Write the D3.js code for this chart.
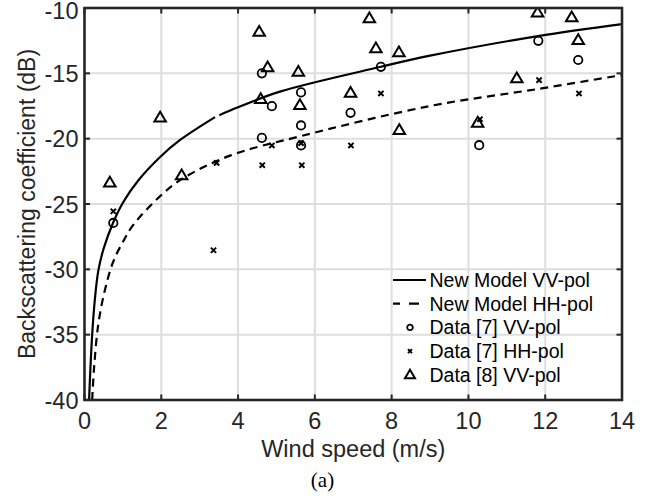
<!DOCTYPE html>
<html>
<head>
<meta charset="utf-8">
<script src="https://cdn.jsdelivr.net/npm/d3@7"></script>
<style>
    body { margin: 0; background: #fff; }
    svg { display: block; font-family: "Liberation Sans", Arial, sans-serif; }
</style>
</head>
<body>
<svg id="chart" width="658" height="502"></svg>
<script>
'use strict';

const X_TICKS = [0, 2, 4, 6, 8, 10, 12, 14];
const Y_TICKS = [-40, -35, -30, -25, -20, -15, -10];

// model curves (null = small break in the drawn line)
const vvModelX = [0.12, 0.14, 0.2, 0.27, 0.36, 0.5, 0.75, 1.0, 1.4, 1.97, 2.49, 3.40, 3.45, 3.51, 4.0, 5.09, 7.72, 9.0, 11.81, 14];
const vvModelY = [-40, -38.5, -35.0, -32.3, -30.1, -28.4, -26.4, -24.9, -23.2, -21.4, -20.1, -18.35, null, -18.2, -17.6, -16.4, -14.5, -13.65, -12.15, -11.23];
const hhModelX = [0.2, 0.25, 0.36, 0.53, 0.75, 1.0, 1.27, 1.97, 2.53, 3.79, 5.64, 9.0, 11.81, 14];
const hhModelY = [-40, -37.5, -34.2, -31.6, -29.4, -27.9, -26.6, -24.4, -23.1, -21.3, -19.8, -17.5, -16.2, -15.13];

// Data [7] VV-pol
const vv7X = [0.75, 4.62, 4.62, 4.88, 5.64, 5.64, 5.64, 6.93, 7.72, 10.28, 11.82, 12.86];
const vv7Y = [-26.45, -15.0, -19.94, -17.51, -16.46, -18.99, -20.52, -18.02, -14.5, -20.5, -12.51, -13.98];
// Data [7] HH-pol
const hh7X = [0.75, 3.36, 3.44, 4.63, 4.88, 5.64, 5.66, 6.94, 7.72, 10.3, 11.84, 12.88];
const hh7Y = [-25.56, -28.54, -21.85, -22.03, -20.52, -20.34, -22.03, -20.52, -16.54, -18.51, -15.52, -16.54];
// Data [8] VV-pol
const vv8X = [0.66, 1.97, 2.53, 4.55, 4.59, 4.77, 5.57, 5.61, 6.93, 7.42, 7.59, 8.19, 8.2, 10.24, 11.26, 11.8, 12.69, 12.86];
const vv8Y = [-23.36, -18.38, -22.8, -11.82, -16.97, -14.54, -14.88, -17.43, -16.49, -10.79, -13.09, -13.39, -19.35, -18.79, -15.39, -10.36, -10.71, -12.45];

const LEGEND_LABELS = ["New Model VV-pol", "New Model HH-pol", "Data [7] VV-pol", "Data [7] HH-pol", "Data [8] VV-pol"];

const LEFT = 84.5, RIGHT = 622, TOP = 8, BOTTOM = 400;
const AXIS_COLOR = "#262626";

const svg = d3.select("#chart");
const x = d3.scaleLinear().domain([0, 14]).range([LEFT, RIGHT]);
const y = d3.scaleLinear().domain([-40, -10]).range([BOTTOM, TOP]);

function zip(xs, ys) {
    return xs.map((v, i) => [v, ys[i]]);
}

/**
 * Marker drawers, centred on 0,0
 */
function drawCircle(g, r) {
    g.append("circle").attr("r", r).attr("fill", "none").attr("stroke", "#000").attr("stroke-width", 1.8);
}
function drawCross(g, h) {
    g.append("path").attr("d", `M${-h},${-h}L${h},${h}M${-h},${h}L${h},${-h}`)
        .attr("stroke", "#000").attr("stroke-width", 2).attr("fill", "none");
}
function drawTriangle(g, w) {
    let hgt = w * 0.85;
    g.append("path").attr("d", `M0,${-hgt * 0.6}L${w / 2},${hgt * 0.4}L${-w / 2},${hgt * 0.4}Z`)
        .attr("stroke", "#000").attr("stroke-width", 2).attr("fill", "none").attr("stroke-linejoin", "miter");
}

// grid
svg.append("g").selectAll("line.gx").data(X_TICKS.slice(1, -1)).enter().append("line")
    .attr("x1", d => x(d)).attr("x2", d => x(d)).attr("y1", TOP).attr("y2", BOTTOM)
    .attr("stroke", "#dedede").attr("stroke-width", 2);
svg.append("g").selectAll("line.gy").data(Y_TICKS.slice(1, -1)).enter().append("line")
    .attr("x1", LEFT).attr("x2", RIGHT).attr("y1", d => y(d)).attr("y2", d => y(d))
    .attr("stroke", "#dedede").attr("stroke-width", 2);

svg.append("clipPath").attr("id", "clip").append("rect")
    .attr("x", LEFT).attr("y", TOP).attr("width", RIGHT - LEFT).attr("height", BOTTOM - TOP);

const plot = svg.append("g").attr("clip-path", "url(#clip)");

const line = d3.line()
    .defined(d => d[1] != null)
    .x(d => x(d[0])).y(d => y(d[1]))
    .curve(d3.curveCatmullRom.alpha(0.5));

plot.append("path").datum(zip(vvModelX, vvModelY)).attr("d", line)
    .attr("fill", "none").attr("stroke", "#000").attr("stroke-width", 2.2);
plot.append("path").datum(zip(hhModelX, hhModelY)).attr("d", line)
    .attr("fill", "none").attr("stroke", "#000").attr("stroke-width", 2.2)
    .attr("stroke-dasharray", "8,5.5");

// scatter data
function scatter(xs, ys, drawer, size) {
    plot.append("g").selectAll("g").data(zip(xs, ys)).enter().append("g")
        .attr("transform", d => "translate(" + x(d[0]) + "," + y(d[1]) + ")")
        .each(function () { drawer(d3.select(this), size); });
}
scatter(vv8X, vv8Y, drawTriangle, 11.5);
scatter(vv7X, vv7Y, drawCircle, 4.2);
scatter(hh7X, hh7Y, drawCross, 2.6);

// legend (no background, grid shows through)
const legend = svg.append("g");
const LEG_BASE = 287, LEG_STEP = 23.7;
LEGEND_LABELS.forEach((label, i) => {
    let base = LEG_BASE + i * LEG_STEP;
    let cy = base - 7;
    if (i == 0) {
        legend.append("line").attr("x1", 393).attr("x2", 426).attr("y1", cy).attr("y2", cy)
            .attr("stroke", "#000").attr("stroke-width", 2.2);
    } else if (i == 1) {
        legend.append("line").attr("x1", 393).attr("x2", 419).attr("y1", cy).attr("y2", cy)
            .attr("stroke", "#000").attr("stroke-width", 2.2).attr("stroke-dasharray", "7,9,10");
    } else {
        let g = legend.append("g").attr("transform", "translate(410," + cy + ")");
        if (i == 2) drawCircle(g, 2.8);
        if (i == 3) drawCross(g, 2);
        if (i == 4) drawTriangle(g, 10);
    }
    legend.append("text").attr("x", 429.5).attr("y", base)
        .attr("font-size", "19.5px").attr("fill", "#000").text(label);
});

// axes box with inward ticks on all sides
const axes = svg.append("g").attr("stroke", AXIS_COLOR).attr("stroke-width", 2);
X_TICKS.forEach(t => {
    axes.append("line").attr("x1", x(t)).attr("x2", x(t)).attr("y1", BOTTOM).attr("y2", BOTTOM - 5.5);
    axes.append("line").attr("x1", x(t)).attr("x2", x(t)).attr("y1", TOP).attr("y2", TOP + 5.5);
});
Y_TICKS.forEach(t => {
    axes.append("line").attr("x1", LEFT).attr("x2", LEFT + 5.5).attr("y1", y(t)).attr("y2", y(t));
    axes.append("line").attr("x1", RIGHT).attr("x2", RIGHT - 5.5).attr("y1", y(t)).attr("y2", y(t));
});
axes.append("rect").attr("x", LEFT).attr("y", TOP).attr("width", RIGHT - LEFT).attr("height", BOTTOM - TOP)
    .attr("fill", "none").attr("stroke-width", 2.6);

// tick labels
svg.append("g").selectAll("text").data(X_TICKS).enter().append("text")
    .attr("x", d => x(d)).attr("y", 429).attr("text-anchor", "middle")
    .attr("font-size", "23.5px").attr("fill", AXIS_COLOR).text(d => d);
svg.append("g").selectAll("text").data(Y_TICKS).enter().append("text")
    .attr("x", 78.5).attr("y", d => Math.max(y(d) + 8.5, 19)).attr("text-anchor", "end")
    .attr("font-size", "23.5px").attr("fill", AXIS_COLOR).text(d => d);

// axis titles
svg.append("text").attr("x", (LEFT + RIGHT) / 2).attr("y", 456.5).attr("text-anchor", "middle")
    .attr("font-size", "23.5px").attr("fill", AXIS_COLOR).text("Wind speed (m/s)");
svg.append("text").attr("transform", "translate(35," + (TOP + BOTTOM) / 2 + ") rotate(-90)")
    .attr("text-anchor", "middle").attr("font-size", "23px").attr("fill", AXIS_COLOR)
    .text("Backscattering coefficient (dB)");
svg.append("text").attr("x", 322.5).attr("y", 487).attr("text-anchor", "middle")
    .attr("font-family", "'Liberation Serif', 'Times New Roman', serif")
    .attr("font-size", "21px").attr("fill", "#000").text("(a)");
</script>
</body>
</html>
